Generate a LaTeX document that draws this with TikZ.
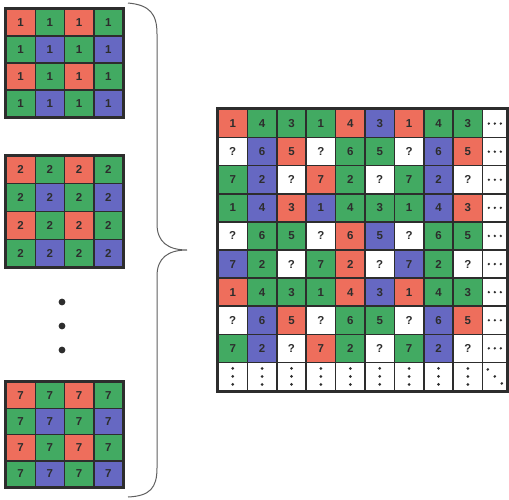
\documentclass[tikz,border=0pt]{standalone}
\usepackage{fontspec}
\setmainfont{Liberation Sans}
\definecolor{cr}{RGB}{238,110,92}
\definecolor{cg}{RGB}{66,170,98}
\definecolor{cb}{RGB}{102,104,194}
\definecolor{ink}{RGB}{45,45,45}
\definecolor{bracecol}{RGB}{95,95,95}
\tikzset{
  cell/.style={draw=ink, line width=1.5pt, inner sep=0pt, font=\bfseries\fontsize{11.5}{11.5}\selectfont, text=ink},
  frame/.style={draw=ink, line width=2.6pt},
  dotmark/.style={fill=ink, draw=none},
  bracestyle/.style={draw=bracecol, line width=1pt}
}
\begin{document}
\begin{tikzpicture}[x=1pt,y=-1pt]
\useasboundingbox (0,0) rectangle (509,500);
% small grids
\foreach \g/\ytop/\h/\lab in {a/9/27/1, b/156/27.75/2, c/382/26.25/7} {
  \foreach \rowcols [count=\i] in {{cr,cg,cr,cg},{cg,cb,cg,cb},{cr,cg,cr,cg},{cg,cb,cg,cb}} {
    \foreach \cc [count=\j] in \rowcols {
      \node[cell, fill=\cc, minimum width=29.25pt, minimum height=\h pt]
        (\g-\i-\j) at ({6+29.25*(\j-0.5)}, {\ytop+\h*(\i-0.5)}) {\lab};
    }
  }
  \draw[frame] (\g-1-1.north west) rectangle (\g-4-4.south east);
}
% vertical dots between grids
\foreach \yy [count=\k] in {302,326,350} {
  \fill[dotmark] (62,\yy) circle (3.4pt);
}
% brace
\draw[bracestyle] (128,3) .. controls (150,5) and (157,14) .. (157,34)
  -- (157,224) .. controls (157,242) and (168,250) .. (187,250)
  .. controls (168,250) and (157,258) .. (157,276)
  -- (157,468) .. controls (157,488) and (150,496) .. (128,497);
% big grid
\def\cw{29.4}
\def\rh{28.1}
\foreach \rowdata [count=\i] in {
  {cr/1,cg/4,cg/3,cg/1,cr/4,cb/3,cr/1,cg/4,cg/3},
  {white/?,cb/6,cr/5,white/?,cg/6,cg/5,white/?,cb/6,cr/5},
  {cg/7,cb/2,white/?,cr/7,cg/2,white/?,cg/7,cb/2,white/?},
  {cg/1,cb/4,cr/3,cb/1,cg/4,cg/3,cg/1,cb/4,cr/3},
  {white/?,cg/6,cg/5,white/?,cr/6,cb/5,white/?,cg/6,cg/5},
  {cb/7,cg/2,white/?,cg/7,cr/2,white/?,cb/7,cg/2,white/?},
  {cr/1,cg/4,cg/3,cg/1,cr/4,cb/3,cr/1,cg/4,cg/3},
  {white/?,cb/6,cr/5,white/?,cg/6,cg/5,white/?,cb/6,cr/5},
  {cg/7,cb/2,white/?,cr/7,cg/2,white/?,cg/7,cb/2,white/?}} {
  \foreach \cc/\tt [count=\j] in \rowdata {
    \node[cell, fill=\cc, minimum width=\cw pt, minimum height=\rh pt]
      (m-\i-\j) at ({218+\cw*(\j-0.5)}, {109.5+\rh*(\i-0.5)}) {\tt};
  }
  % last column with horizontal dots
  \node[cell, fill=white, minimum width=24.4pt, minimum height=\rh pt]
    (m-\i-10) at ({218+9*\cw+12.2}, {109.5+\rh*(\i-0.5)}) {};
  \foreach \dx in {-6,0,6} {
    \fill[dotmark] ([xshift=\dx pt]m-\i-10.center) circle (1.3pt);
  }
}
% last row with vertical dots
\foreach \j in {1,...,9} {
  \node[cell, fill=white, minimum width=\cw pt, minimum height=\rh pt]
    (m-10-\j) at ({218+\cw*(\j-0.5)}, {109.5+\rh*9.5}) {};
  \foreach \dy in {-8,0,8} {
    \fill[dotmark] ([yshift=\dy pt]m-10-\j.center) circle (1.5pt);
  }
}
\node[cell, fill=white, minimum width=24.4pt, minimum height=\rh pt]
  (m-10-10) at ({218+9*\cw+12.2}, {109.5+\rh*9.5}) {};
\foreach \d in {-7,0,7} {
  \fill[dotmark] ([xshift=\d pt, yshift=-\d pt]m-10-10.center) circle (1.4pt);
}
\draw[frame] (m-1-1.north west) rectangle (m-10-10.south east);
\end{tikzpicture}
\end{document}
